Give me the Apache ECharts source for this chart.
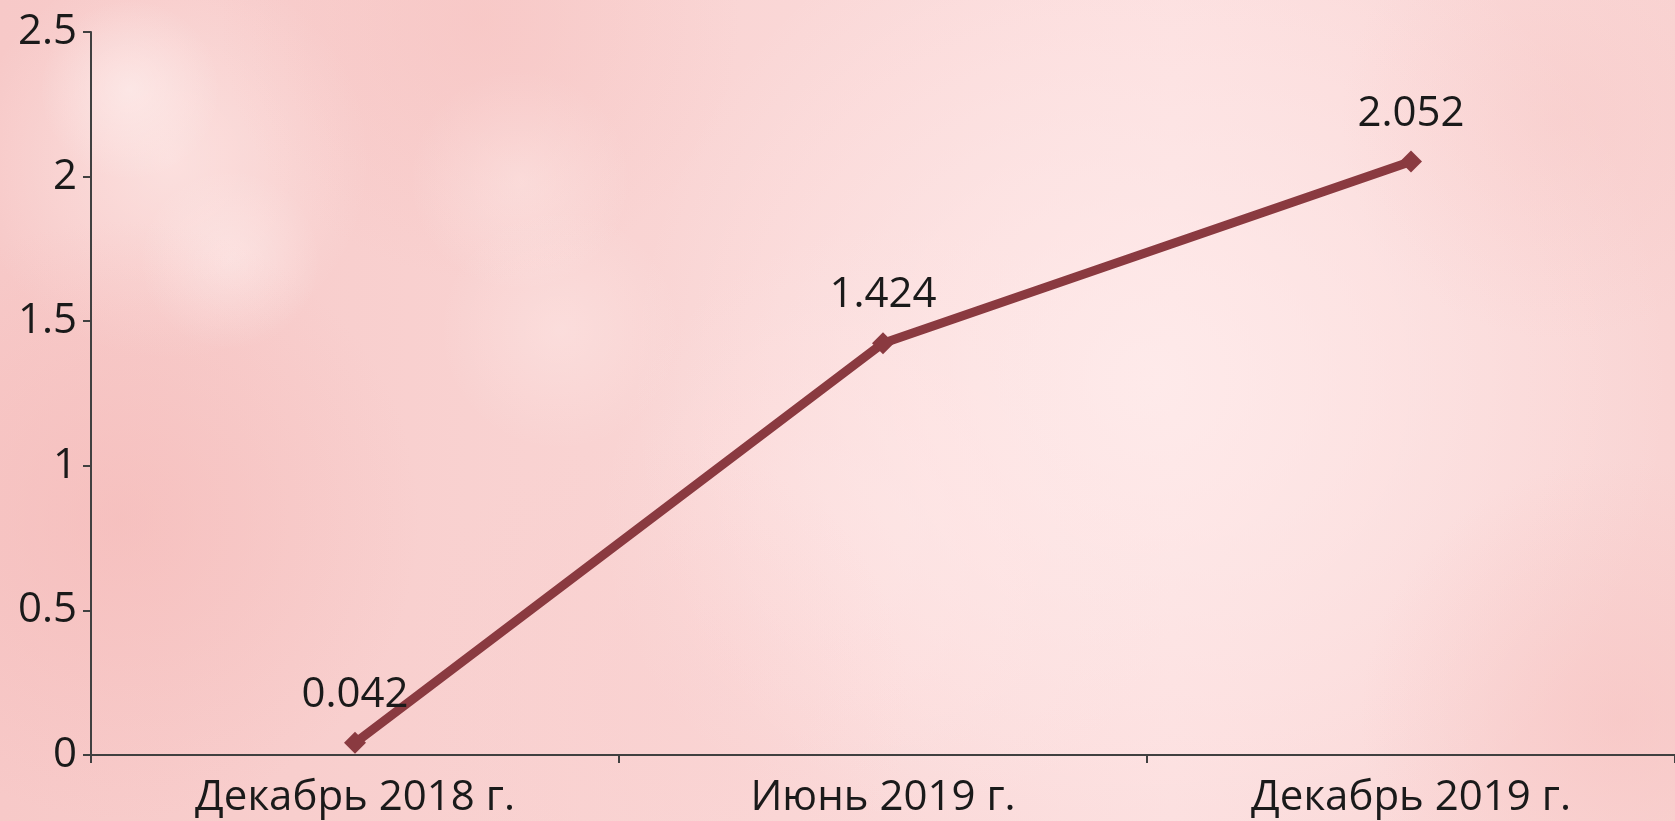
<!DOCTYPE html>
<html>
<head>
<meta charset="utf-8">
<script src="https://cdn.jsdelivr.net/npm/echarts@6/dist/echarts.min.js"></script>
<style>
  html, body { margin: 0; padding: 0; }
  #chart { width: 1675px; height: 821px; }
</style>
</head>
<body>
<div id="chart"></div>
<script>
const categories = ['Декабрь 2018 г.', 'Июнь 2019 г.', 'Декабрь 2019 г.'];
const values = [0.042, 1.424, 2.052];
const yTicks = { min: 0, max: 2.5, interval: 0.5 };

function blob(cx, cy, r, color) {
  return {
    type: 'circle', silent: true, z: -10,
    shape: { cx: cx, cy: cy, r: r },
    style: {
      fill: {
        type: 'radial', x: 0.5, y: 0.5, r: 0.5,
        colorStops: [{ offset: 0, color: color }, { offset: 1, color: color.replace(/[\d.]+\)$/, '0)') }]
      }
    }
  };
}

const chart = echarts.init(document.getElementById('chart'), null, { renderer: 'canvas' });
chart.setOption({
  backgroundColor: {
    type: 'linear', x: 0, y: 0, x2: 1, y2: 0,
    colorStops: [
      { offset: 0, color: '#f7c9c8' },
      { offset: 0.35, color: '#f9d3d2' },
      { offset: 0.7, color: '#fcdede' },
      { offset: 1, color: '#f9d4d3' }
    ]
  },
  graphic: [
    blob(1150, 380, 520, 'rgba(255,238,238,0.75)'),
    blob(900, 520, 300, 'rgba(255,232,232,0.5)'),
    blob(170, 160, 200, 'rgba(255,240,238,0.55)'),
    blob(130, 90, 90, 'rgba(255,245,244,0.5)'),
    blob(230, 260, 90, 'rgba(255,245,244,0.4)'),
    blob(520, 180, 110, 'rgba(255,242,240,0.45)'),
    blob(560, 330, 120, 'rgba(255,240,238,0.35)'),
    blob(120, 520, 300, 'rgba(244,180,178,0.45)'),
    blob(480, 20, 260, 'rgba(246,190,188,0.45)'),
    blob(1620, 720, 260, 'rgba(246,188,186,0.45)'),
    blob(1560, 120, 220, 'rgba(247,196,194,0.35)'),
    blob(650, 700, 260, 'rgba(250,205,205,0.35)')
  ],
  grid: { left: 91, top: 32, width: 1596, height: 723, containLabel: false },
  xAxis: {
    type: 'category',
    data: categories,
    boundaryGap: true,
    axisLine: { show: true, lineStyle: { color: '#404040', width: 2 } },
    axisTick: { show: true, length: 8, inside: false, alignWithLabel: false, lineStyle: { color: '#404040', width: 2 } },
    axisLabel: { color: '#1a1a1a', fontSize: 42, fontFamily: 'Open Sans', margin: 22 },
    splitLine: { show: false }
  },
  yAxis: {
    type: 'value',
    min: yTicks.min, max: yTicks.max, interval: yTicks.interval,
    axisLine: { show: true, lineStyle: { color: '#404040', width: 2 } },
    axisTick: { show: true, length: 8, lineStyle: { color: '#404040', width: 2 } },
    axisLabel: { color: '#1a1a1a', fontSize: 42, fontFamily: 'Open Sans', margin: 14 },
    splitLine: { show: false }
  },
  series: [{
    type: 'line',
    data: values,
    symbol: 'diamond',
    symbolSize: 22,
    lineStyle: { color: '#8a3a40', width: 9 },
    itemStyle: { color: '#8a3a40' },
    label: {
      show: true, position: 'top', distance: 16,
      color: '#1a1a1a', fontSize: 42, fontFamily: 'Open Sans'
    },
    animation: false,
    z: 5
  }],
  animation: false
});
</script>
</body>
</html>
